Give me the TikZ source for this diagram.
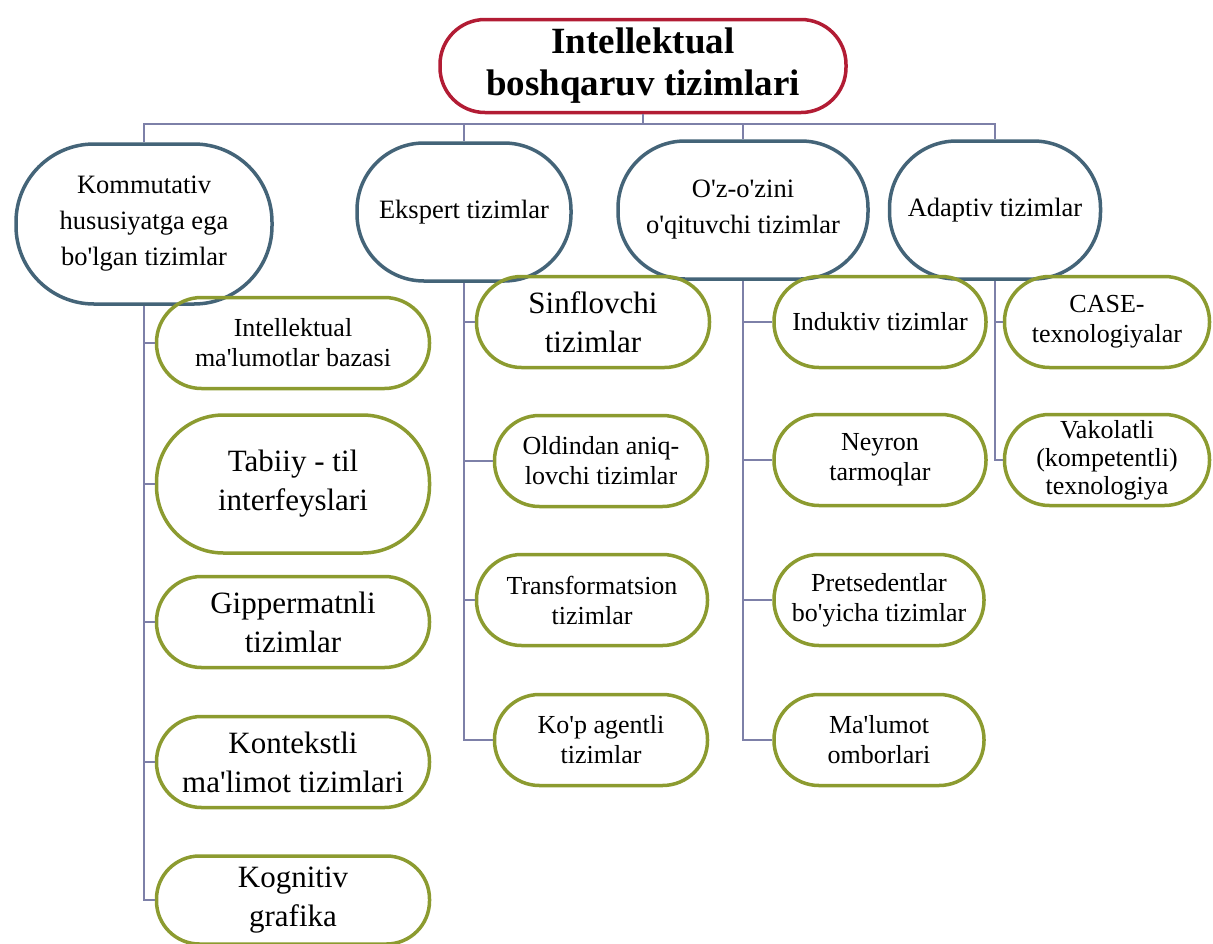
\documentclass[tikz,border=0pt]{standalone}
\usepackage{fontspec}
\setmainfont{Liberation Serif}
\newcommand\ap{\textquotesingle}
\definecolor{rootred}{RGB}{178,28,52}
\definecolor{slate}{RGB}{68,100,120}
\definecolor{olivec}{RGB}{140,155,48}
\definecolor{wirec}{RGB}{125,128,168}
\begin{document}
\begin{tikzpicture}[x=1pt,y=-1pt,
  rootbox/.style={draw=rootred, line width=3.5pt, rounded corners=45pt, minimum width=406pt, minimum height=93pt, align=center, inner sep=0pt, font=\fontsize{37}{42}\selectfont\bfseries},
  topbox/.style={draw=slate, line width=3.5pt, align=center, inner sep=0pt, rounded corners=67pt, minimum height=138pt, font=\fontsize{26.5}{36}\selectfont},
  leafbox/.style={draw=olivec, line width=3.5pt, align=center, inner sep=0pt, rounded corners=45pt, minimum height=91pt},
  smalltxt/.style={font=\fontsize{26}{30}\selectfont},
  bigtxt/.style={font=\fontsize{31}{39}\selectfont},
  wire/.style={draw=wirec, line width=1.6pt}]
\useasboundingbox (0,0) rectangle (1213,943);

% root
\node[rootbox] (root) at (643,66) {Intellektual\\boshqaruv tizimlari};

% level 1
\node[topbox, minimum width=256pt, minimum height=160pt, rounded corners=78pt] (k) at (144,224) {Kommutativ\\hususiyatga ega\\bo\ap lgan tizimlar};
\node[topbox, minimum width=214pt] (ek) at (464,212) {Ekspert tizimlar};
\node[topbox, minimum width=250pt] (oz) at (743,210) {O\ap z-o\ap zini\\o\ap qituvchi tizimlar};
\node[topbox, minimum width=211pt] (ad) at (995,210) {Adaptiv tizimlar};

% column 1
\node[leafbox, smalltxt, minimum width=273pt] (imb) at (293,343) {Intellektual\\ma\ap lumotlar bazasi};
\node[leafbox, bigtxt, minimum width=273pt, minimum height=138pt, rounded corners=67pt] (tab) at (293,484) {Tabiiy - til\\interfeyslari};
\node[leafbox, bigtxt, minimum width=273pt] (gip) at (293,622) {Gippermatnli\\tizimlar};
\node[leafbox, bigtxt, minimum width=273pt] (kon) at (293,762) {Kontekstli\\ma\ap limot tizimlari};
\node[leafbox, bigtxt, minimum width=273pt, minimum height=88pt, rounded corners=43pt] (kog) at (293,900) {Kognitiv\\grafika};

% column 2
\node[leafbox, bigtxt, minimum width=233pt] (sin) at (593,322) {Sinflovchi\\tizimlar};
\node[leafbox, smalltxt, minimum width=213pt] (old) at (601,461) {Oldindan aniq-\\lovchi tizimlar};
\node[leafbox, smalltxt, minimum width=231pt] (tra) at (592,600) {Transformatsion\\tizimlar};
\node[leafbox, smalltxt, minimum width=213pt] (kop) at (601,740) {Ko\ap p agentli\\tizimlar};

% column 3
\node[leafbox, smalltxt, minimum width=212pt] (ind) at (880,322) {Induktiv tizimlar};
\node[leafbox, smalltxt, minimum width=212pt] (ney) at (880,460) {Neyron\\tarmoqlar};
\node[leafbox, smalltxt, minimum width=210pt] (pre) at (879,600) {Pretsedentlar\\bo\ap yicha tizimlar};
\node[leafbox, smalltxt, minimum width=210pt] (mal) at (879,740) {Ma\ap lumot\\omborlari};

% column 4
\node[leafbox, smalltxt, minimum width=205pt] (cas) at (1107,322) {CASE-\\texnologiyalar};
\node[leafbox, font=\fontsize{26}{28}\selectfont, minimum width=205pt] (vak) at (1107,460) {Vakolatli\\(kompetentli)\\texnologiya};

% bus from root
\foreach \c in {k,ek,oz,ad}
  \draw[wire] (root.south) -- ++(0,10) -| (\c.north);

% column connectors
\draw[wire] (k.south) |- (kog.west);
\foreach \c in {imb,tab,gip,kon}
  \draw[wire] (k.south |- \c.west) -- (\c.west);

\draw[wire] (ek.south) |- (kop.west);
\foreach \c in {sin,old,tra}
  \draw[wire] (ek.south |- \c.west) -- (\c.west);

\draw[wire] (oz.south) |- (mal.west);
\foreach \c in {ind,ney,pre}
  \draw[wire] (oz.south |- \c.west) -- (\c.west);

\draw[wire] (ad.south) |- (vak.west);
\draw[wire] (ad.south |- cas.west) -- (cas.west);
\end{tikzpicture}
\end{document}
